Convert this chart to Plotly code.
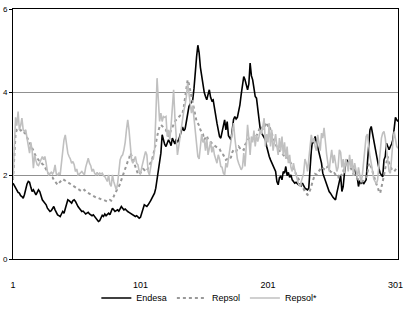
import plotly.graph_objects as go

x_tick_vals = [1, 101, 201, 301]
x_tick_text = ["1", "101", "201", "301"]
y_tick_vals = [0, 2, 4, 6]

endesa = [
    1.82, 1.76, 1.70, 1.66, 1.60, 1.58, 1.52, 1.50, 1.46, 1.55,
    1.70, 1.80, 1.86, 1.84, 1.72, 1.62, 1.66, 1.58, 1.54, 1.60,
    1.66, 1.62, 1.50, 1.42, 1.38, 1.34, 1.30, 1.22, 1.18, 1.14,
    1.16, 1.20, 1.26, 1.18, 1.10, 1.06, 1.04, 1.02, 1.08, 1.14,
    1.10, 1.20, 1.32, 1.42, 1.40, 1.36, 1.34, 1.40, 1.42, 1.38,
    1.30, 1.26, 1.22, 1.18, 1.14, 1.15, 1.12, 1.08, 1.10, 1.12,
    1.08, 1.06, 1.04, 1.06, 1.02, 0.98, 0.94, 0.90, 0.92, 1.00,
    1.05, 1.02, 1.08, 1.04, 1.06, 1.10, 1.06, 1.14, 1.22, 1.18,
    1.14, 1.16, 1.18, 1.15, 1.20, 1.26, 1.22, 1.18, 1.20, 1.16,
    1.14, 1.12, 1.10, 1.08, 1.06, 1.04, 1.02, 1.04, 1.00, 0.98,
    1.00, 1.10, 1.22, 1.30, 1.28, 1.26, 1.30, 1.34, 1.40, 1.46,
    1.52, 1.58, 1.70, 1.90, 2.10, 2.30, 2.54, 2.98, 2.85, 2.75,
    2.70, 2.78, 2.86, 2.80, 2.72, 2.90, 2.82, 2.76, 2.88, 2.80,
    2.86, 2.95, 3.05, 3.17, 3.08, 3.12, 3.30, 3.50, 3.66, 3.72,
    3.78, 3.82, 4.10, 4.54, 4.85, 5.13, 4.95, 4.60, 4.38, 4.22,
    4.00, 3.90, 3.82, 3.95, 4.06, 3.88, 3.80, 3.82, 3.60, 3.40,
    3.26, 3.10, 2.94, 2.90, 3.05, 3.20, 3.34, 3.10, 3.30, 2.96,
    2.90, 2.86, 3.10, 3.35, 3.42, 3.36, 3.40, 3.55, 3.70, 3.95,
    4.20, 4.38, 4.30, 4.14, 4.06, 4.20, 4.70, 4.40, 4.30, 4.10,
    3.90, 3.86, 3.60, 3.42, 3.10, 3.02, 2.96, 2.90, 2.86, 2.70,
    2.55, 2.46, 2.38, 2.30, 2.22, 2.15, 2.10, 1.86, 1.78, 1.95,
    1.98, 1.90, 2.10, 2.06, 2.22, 2.00, 2.08, 1.96, 2.02, 1.90,
    1.86, 1.82, 1.84, 1.82, 1.78, 1.80, 1.76, 1.82, 1.74, 1.70,
    1.68, 1.66, 1.70, 2.22, 2.60, 2.86, 2.78, 2.94, 2.80, 2.70,
    2.60, 2.46, 2.30, 2.06, 1.96, 1.90, 1.82, 1.70, 1.62, 1.58,
    1.52, 1.48, 1.45, 1.42, 1.58, 1.70, 1.85, 2.00, 1.62, 1.74,
    2.06, 2.30, 2.38, 2.28, 2.34, 2.30, 2.26, 2.20, 2.14, 2.05,
    1.96, 1.74, 1.88, 1.82, 1.86, 1.80, 1.84, 1.90, 2.30, 2.70,
    3.10, 3.18, 3.00, 2.86, 2.70, 2.50, 2.30, 2.18, 2.06, 2.02,
    1.97, 2.38, 2.46, 2.78, 2.70, 2.62, 2.70, 2.76, 2.86, 3.10,
    3.40, 3.34, 3.30,
]

repsol = [
    1.90, 2.40, 3.00, 3.10, 3.12, 3.08, 3.10, 3.05, 3.02, 3.03,
    3.00, 2.92, 2.86, 2.80, 2.72, 2.66, 2.60, 2.52, 2.46, 2.42,
    2.38, 2.34, 2.32, 2.28, 2.26, 2.20, 2.14, 2.08, 2.04, 2.00,
    1.98, 1.96, 1.90, 1.86, 1.80, 1.78, 1.82, 1.86, 1.90, 1.92,
    1.90, 1.88, 1.86, 1.82, 1.80, 1.78, 1.76, 1.74, 1.72, 1.70,
    1.70, 1.66, 1.64, 1.62, 1.62, 1.64, 1.66, 1.62, 1.60, 1.58,
    1.56, 1.54, 1.54, 1.52, 1.50, 1.48, 1.48, 1.46, 1.46, 1.44,
    1.42, 1.42, 1.40, 1.38, 1.38, 1.40, 1.42, 1.40, 1.44, 1.50,
    1.58, 1.62, 1.68, 1.74, 1.80, 1.90, 2.00, 2.10, 2.20, 2.28,
    2.34, 2.40, 2.54, 2.48, 2.38, 2.30, 2.18, 2.10, 2.04, 2.02,
    2.06, 2.12, 2.16, 2.14, 2.10, 2.12, 2.18, 2.24, 2.30, 2.38,
    2.50, 2.62, 2.76, 2.94, 3.10, 3.18, 3.22, 3.20, 3.16, 3.12,
    3.10, 3.00, 2.94, 3.02, 3.10, 3.18, 3.26, 3.30, 3.34, 3.38,
    3.42, 3.44, 3.46, 3.50, 3.66, 3.90, 4.10, 4.30, 4.20, 4.06,
    3.86, 3.70, 3.58, 3.44, 3.30, 3.26, 3.20, 3.10, 3.04, 3.00,
    2.86, 2.92, 2.96, 2.88, 2.84, 2.80, 2.78, 2.74, 2.72, 2.70,
    2.68, 2.66, 2.64, 2.58, 2.52, 2.50, 2.44, 2.38, 2.40, 2.42,
    2.40, 2.44, 2.56, 2.62, 2.60, 2.58, 2.64, 2.70, 2.66, 2.68,
    2.64, 2.62, 2.74, 2.78, 2.84, 2.90, 2.94, 2.92, 2.88, 2.90,
    2.92, 2.96, 3.02, 3.10, 3.18, 3.16, 3.12, 3.14, 3.20, 3.28,
    3.20, 3.22, 3.10, 3.00, 2.90, 2.84, 2.76, 2.68, 2.62, 2.60,
    2.58, 2.54, 2.50, 2.46, 2.48, 2.44, 2.40, 2.36, 2.30, 2.22,
    2.16, 2.12, 2.06, 2.00, 1.92, 1.86, 1.78, 1.72, 1.66, 1.62,
    1.58, 1.54, 1.56, 1.64, 1.74, 1.86, 1.98, 2.04, 2.02, 2.06,
    2.10, 2.14, 2.20, 2.18, 2.16, 2.22, 2.20, 2.22, 2.14, 2.10,
    2.08, 2.04, 2.06, 2.02, 2.00, 1.96, 2.02, 2.06, 2.00, 2.10,
    2.22, 2.30, 2.34, 2.30, 2.24, 2.18, 2.10, 2.04, 2.00, 1.96,
    1.92, 1.90, 1.88, 1.86, 1.86, 1.90, 1.94, 1.96, 2.06, 2.26,
    2.30, 2.20, 2.06, 1.96, 1.86, 1.80, 1.74, 1.62, 1.58, 1.70,
    1.86, 2.00, 2.18, 2.30, 2.46, 2.30, 2.22, 2.16, 2.12, 2.10,
    2.14, 2.20, 2.22,
]

repsol_star = [
    1.92, 2.60, 3.40, 3.20, 3.54, 3.10, 3.20, 3.38, 3.10, 3.06,
    3.10, 2.90, 2.70, 2.54, 2.80, 2.60, 2.18, 2.50, 2.36, 2.26,
    2.24, 2.30, 2.40, 2.46, 2.38, 2.46, 2.30, 2.10, 2.02, 2.06,
    2.08, 2.04, 2.10, 2.26, 2.04, 2.02, 2.06, 2.02, 2.30, 2.62,
    2.86, 2.98, 2.70, 2.54, 2.46, 2.40, 2.30, 2.34, 2.26, 2.10,
    2.16, 2.02, 2.04, 2.08, 2.10, 2.06, 2.02, 2.20, 2.34, 2.42,
    2.30, 2.24, 2.10, 2.16, 2.06, 2.02, 2.08, 2.02, 2.06, 2.04,
    2.06, 2.00, 1.98, 1.90, 1.86, 2.02, 1.80, 1.74, 2.02, 1.86,
    1.74, 1.66, 1.80, 2.06, 2.38, 2.46, 2.50, 2.62, 2.80, 3.10,
    3.34, 3.10, 2.70, 2.38, 2.30, 2.40, 2.46, 2.30, 2.26, 2.10,
    2.04, 2.20, 2.36, 2.46, 2.58, 2.50, 2.10, 2.02, 2.20, 2.38,
    2.40, 2.60, 3.40, 4.34, 3.82, 3.30, 3.50, 3.30, 3.42, 3.40,
    3.42, 2.94, 3.10, 2.86, 3.20, 3.60, 4.06, 3.40, 2.80, 2.50,
    2.70, 2.90, 3.20, 3.42, 3.56, 3.70, 3.90, 4.22, 4.00, 3.70,
    3.50, 3.68, 3.34, 2.94, 2.60, 2.46, 2.40, 2.70, 3.00, 2.80,
    2.86, 2.60, 2.90, 2.50, 2.70, 2.82, 2.56, 2.70, 2.50, 2.40,
    2.30, 2.50, 2.40, 2.22, 2.20, 2.06, 2.02, 2.30, 2.20, 2.40,
    2.60, 2.82, 3.00, 3.26, 2.90, 2.60, 2.40, 2.30, 2.20, 2.14,
    2.20, 2.54, 2.22, 2.70, 3.22, 2.90, 2.50, 2.94, 2.80, 3.08,
    2.70, 2.98, 2.82, 2.94, 3.10, 3.00, 3.20, 3.38, 2.70, 3.00,
    2.80, 3.26, 2.70, 3.10, 2.60, 2.80, 3.00, 2.70, 2.50, 2.90,
    2.60, 2.94, 2.50, 2.80, 2.40, 2.70, 2.30, 2.50, 2.20, 2.10,
    2.30, 2.14, 2.00, 1.94, 1.80, 1.74, 1.86, 1.92, 2.06, 2.40,
    2.30, 2.10, 2.40, 2.70, 2.98, 2.80, 2.90, 2.70, 2.60, 2.98,
    2.80, 2.60, 3.02, 2.90, 3.15, 2.76, 2.52, 2.30, 2.10, 2.40,
    2.62, 2.30, 2.50, 2.30, 2.10, 2.20, 2.62, 2.56, 2.20, 2.40,
    2.06, 2.40, 2.30, 2.10, 2.50, 2.20, 2.40, 2.00, 2.30, 2.14,
    1.94, 2.20, 2.02, 1.84, 2.00, 2.30, 2.70, 2.94, 3.00, 2.70,
    2.46, 2.30, 2.10, 1.92, 1.86, 1.80, 1.90, 2.20, 2.56, 2.90,
    3.02, 3.06, 2.90, 2.60, 2.30, 2.10, 2.06, 2.50, 2.80, 3.06,
    2.90, 2.70, 2.66,
]

series_names = ["Endesa", "Repsol", "Repsol*"]

FONT = "Liberation Sans, Arial, sans-serif"

fig = go.Figure()
fig.add_trace(go.Scatter(
    x=list(range(1, len(endesa) + 1)), y=endesa, mode="lines",
    name=series_names[0], line=dict(color="#000000", width=1.6)))
fig.add_trace(go.Scatter(
    x=list(range(1, len(repsol) + 1)), y=repsol, mode="lines",
    name=series_names[1], line=dict(color="#999999", width=2, dash="dot")))
fig.add_trace(go.Scatter(
    x=list(range(1, len(repsol_star) + 1)), y=repsol_star, mode="lines",
    name=series_names[2], line=dict(color="#c0c0c0", width=1.6)))

fig.update_layout(
    width=405, height=317,
    margin=dict(l=13, r=7, t=9, b=58, autoexpand=False),
    paper_bgcolor="white", plot_bgcolor="white",
    font=dict(family=FONT, size=9, color="#000000"),
    showlegend=True,
    legend=dict(orientation="h", x=0.51, xanchor="center",
                yref="container", y=0.06, yanchor="middle",
                font=dict(size=9), itemwidth=30, tracegroupgap=0,
                bgcolor="rgba(0,0,0,0)"),
    xaxis=dict(range=[1, 303], tickvals=x_tick_vals, ticktext=x_tick_text,
               showgrid=False, zeroline=False, showline=True, linecolor="#000000",
               linewidth=1, mirror=True, ticks="", ticklabelstandoff=17,
               tickfont=dict(size=9), automargin=False),
    yaxis=dict(range=[0, 6], tickvals=y_tick_vals, showgrid=True,
               gridcolor="#909090", gridwidth=1, zeroline=False, showline=True,
               linecolor="#000000", linewidth=1, mirror=True, ticks="outside",
               ticklen=3, tickcolor="#000000", tickfont=dict(size=8),
               automargin=False),
)

fig.write_html(
    "out.html",
    config={"displayModeBar": False},
    post_script="document.body.style.margin='0';document.body.style.overflow='hidden';",
)
